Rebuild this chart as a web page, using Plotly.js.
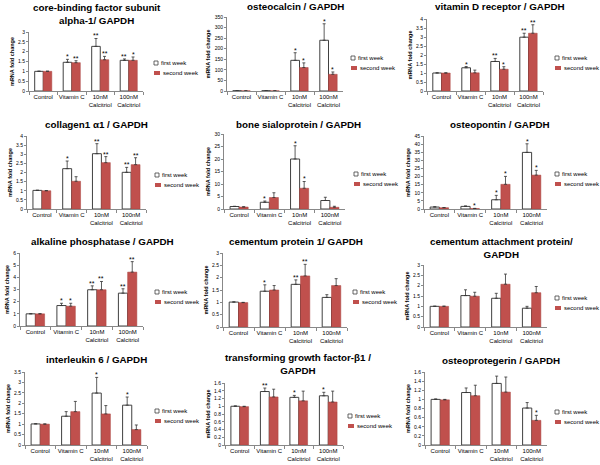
<!DOCTYPE html>
<html>
<head>
<meta charset="utf-8">
<script src="https://cdn.plot.ly/plotly-3.0.1.min.js"></script>
<style>body{margin:0;background:#fff}#chart{width:600px;height:465px}</style>
</head>
<body>
<div id="chart"></div>
<script>
const categories = ['Control', 'Vitamin C', '10nM<br>Calcitriol', '100nM<br>Calcitriol']
const weekNames = ['first week', 'second week']

// core-binding factor subunit alpha-1
const cbfaFirst = [1, 1.46, 2.27, 1.56]
const cbfaFirstErr = [0.01, 0.15, 0.4, 0.07]
const cbfaSecond = [1, 1.44, 1.59, 1.56]
const cbfaSecondErr = [0.01, 0.1, 0.17, 0.17]
const cbfaFirstSig = ['', '*', '**', '**']
const cbfaSecondSig = ['', '**', '**', '*']

// osteocalcin
const ocnFirst = [1, 1, 145, 240]
const ocnFirstErr = [0, 0, 36, 78]
const ocnSecond = [1, 1, 111, 79]
const ocnSecondErr = [0, 0, 22, 11]
const ocnFirstSig = ['', '', '*', '*']
const ocnSecondSig = ['', '', '*', '*']

// vitamin D receptor
const vdrFirst = [1, 1.29, 1.64, 2.99]
const vdrFirstErr = [0.01, 0.07, 0.17, 0.22]
const vdrSecond = [1, 1.01, 1.21, 3.21]
const vdrSecondErr = [0.01, 0.15, 0.14, 0.47]
const vdrFirstSig = ['', '*', '**', '**']
const vdrSecondSig = ['', '', '*', '**']

// collagen1 alpha1
const colFirst = [1.02, 2.21, 3.03, 2.01]
const colFirstErr = [0.01, 0.42, 0.55, 0.27]
const colSecond = [1, 1.52, 2.54, 2.43]
const colSecondErr = [0.01, 0.25, 0.33, 0.38]
const colFirstSig = ['', '*', '**', '**']
const colSecondSig = ['', '', '**', '**']

// bone sialoprotein
const bspFirst = [1, 2.7, 20, 3.4]
const bspFirstErr = [0.1, 0.5, 5.3, 1.3]
const bspSecond = [0.8, 4.6, 8.3, 0.7]
const bspSecondErr = [0.1, 1.9, 2.7, 0.4]
const bspFirstSig = ['', '*', '*', '']
const bspSecondSig = ['', '', '*', '']

// osteopontin
const opnFirst = [1.2, 1.6, 5.7, 34.9]
const opnFirstErr = [0.2, 0.3, 2.7, 5.3]
const opnSecond = [0.8, 0.3, 15.2, 20.9]
const opnSecondErr = [0.1, 0.1, 4.9, 2.9]
const opnFirstSig = ['', '', '*', '*']
const opnSecondSig = ['', '*', '*', '*']

// alkaline phosphatase
const alpFirst = [1, 1.68, 2.98, 2.7]
const alpFirstErr = [0.01, 0.19, 0.32, 0.36]
const alpSecond = [1, 1.63, 2.98, 4.43]
const alpSecondErr = [0.01, 0.24, 0.68, 0.86]
const alpFirstSig = ['', '*', '**', '**']
const alpSecondSig = ['', '*', '**', '**']

// cementum protein 1
const cp1First = [1.01, 1.45, 1.73, 1.2]
const cp1FirstErr = [0.01, 0.26, 0.18, 0.11]
const cp1Second = [0.99, 1.5, 2.07, 1.68]
const cp1SecondErr = [0.01, 0.18, 0.47, 0.28]
const cp1FirstSig = ['', '*', '**', '']
const cp1SecondSig = ['', '', '**', '']

// cementum attachment protein
const capFirst = [1, 1.52, 1.39, 0.91]
const capFirstErr = [0.01, 0.28, 0.24, 0.09]
const capSecond = [1, 1.49, 2.07, 1.66]
const capSecondErr = [0.01, 0.19, 0.49, 0.3]

// interleukin 6
const il6First = [1.01, 1.38, 2.49, 1.91]
const il6FirstErr = [0.01, 0.22, 0.75, 0.39]
const il6Second = [1, 1.6, 1.49, 0.74]
const il6SecondErr = [0.01, 0.49, 0.4, 0.22]
const il6FirstSig = ['', '', '*', '*']

// transforming growth factor-beta1
const tgfFirst = [1, 1.38, 1.23, 1.27]
const tgfFirstErr = [0.01, 0.09, 0.05, 0.09]
const tgfSecond = [0.99, 1.24, 1.14, 1.11]
const tgfSecondErr = [0.01, 0.2, 0.25, 0.28]
const tgfFirstSig = ['', '**', '*', '*']

// osteoprotegerin
const opgFirst = [1, 1.15, 1.35, 0.81]
const opgFirstErr = [0.01, 0.1, 0.16, 0.12]
const opgSecond = [0.99, 1.08, 1.16, 0.54]
const opgSecondErr = [0.01, 0.23, 0.33, 0.11]
const opgSecondSig = ['', '', '', '*']

const none = ['', '', '', '']

// box: [left, right, top, bottom] in px, tp: title centre, lp: legend first row
const panels = [
    {title: 'core-binding factor subunit<br>alpha-1/ GAPDH', f: cbfaFirst, fe: cbfaFirstErr, s: cbfaSecond, se: cbfaSecondErr, fs: cbfaFirstSig, ss: cbfaSecondSig, yMax: 3, dtick: 0.5, box: [29, 143, 32, 91], tp: [97, 13.5], lp: [154, 63]},
    {title: 'osteocalcin / GAPDH', f: ocnFirst, fe: ocnFirstErr, s: ocnSecond, se: ocnSecondErr, fs: ocnFirstSig, ss: ocnSecondSig, yMax: 350, dtick: 50, box: [227, 343, 17, 91], tp: [295, 7], lp: [351, 58]},
    {title: 'vitamin D receptor / GAPDH', f: vdrFirst, fe: vdrFirstErr, s: vdrSecond, se: vdrSecondErr, fs: vdrFirstSig, ss: vdrSecondSig, yMax: 4, dtick: 0.5, box: [427, 543, 19, 91], tp: [500, 7], lp: [555, 58]},
    {title: 'collagen1 α1 / GAPDH', f: colFirst, fe: colFirstErr, s: colSecond, se: colSecondErr, fs: colFirstSig, ss: colSecondSig, yMax: 4, dtick: 0.5, box: [27, 146, 136, 209], tp: [97, 125], lp: [155, 175]},
    {title: 'bone sialoprotein / GAPDH', f: bspFirst, fe: bspFirstErr, s: bspSecond, se: bspSecondErr, fs: bspFirstSig, ss: bspSecondSig, yMax: 30, dtick: 5, box: [224, 345, 134, 209], tp: [298, 125], lp: [354, 174]},
    {title: 'osteopontin / GAPDH', f: opnFirst, fe: opnFirstErr, s: opnSecond, se: opnSecondErr, fs: opnFirstSig, ss: opnSecondSig, yMax: 45, dtick: 5, box: [424, 547, 136, 209], tp: [500, 125], lp: [555, 174]},
    {title: 'alkaline phosphatase / GAPDH', f: alpFirst, fe: alpFirstErr, s: alpSecond, se: alpSecondErr, fs: alpFirstSig, ss: alpSecondSig, yMax: 6, dtick: 1, box: [20, 143, 253, 326], tp: [102, 241], lp: [155, 292]},
    {title: 'cementum protein 1/ GAPDH', f: cp1First, fe: cp1FirstErr, s: cp1Second, se: cp1SecondErr, fs: cp1FirstSig, ss: cp1SecondSig, yMax: 3, dtick: 0.5, box: [223, 347, 253, 327], tp: [296, 241], lp: [353, 292]},
    {title: 'cementum attachment protein/<br>GAPDH', f: capFirst, fe: capFirstErr, s: capSecond, se: capSecondErr, fs: none, ss: none, yMax: 3, dtick: 0.5, box: [424, 547, 265, 327], tp: [501, 247.5], lp: [555, 298]},
    {title: 'interleukin 6 / GAPDH', f: il6First, fe: il6FirstErr, s: il6Second, se: il6SecondErr, fs: il6FirstSig, ss: none, yMax: 3.5, dtick: 0.5, box: [25, 147, 372, 445], tp: [97, 359], lp: [155, 411]},
    {title: 'transforming growth factor-β1 /<br>GAPDH', f: tgfFirst, fe: tgfFirstErr, s: tgfSecond, se: tgfSecondErr, fs: tgfFirstSig, ss: none, yMax: 1.6, dtick: 0.2, box: [225, 343, 383, 445], tp: [298, 364], lp: [348, 416]},
    {title: 'osteoprotegerin / GAPDH', f: opgFirst, fe: opgFirstErr, s: opgSecond, se: opgSecondErr, fs: none, ss: opgSecondSig, yMax: 1.6, dtick: 0.2, box: [425, 547, 372, 445], tp: [501, 360], lp: [555, 412]},
]

const W = 600, H = 465
const px = x => x / W
const py = y => 1 - y / H
const red = '#c0504d'
const edge = '#404040'
const font = 'Liberation Sans, Arial, sans-serif'
const barGap = 0.4
const shift = (1 - barGap) / 4

let data = []
let annotations = []
let shapes = []
let layout = {
    width: W, height: H,
    margin: {l: 0, r: 0, t: 0, b: 0},
    paper_bgcolor: '#fff',
    plot_bgcolor: '#fff',
    barmode: 'group',
    bargap: barGap,
    bargroupgap: 0,
    showlegend: false,
    font: {family: font, size: 6, color: '#000'},
}

panels.forEach((p, i) => {
    const n = i === 0 ? '' : String(i + 1)
    const xa = 'x' + n, ya = 'y' + n
    const errBar = (arr) => ({
        type: 'data', symmetric: false, array: arr, arrayminus: arr.map(() => 0),
        color: '#333', thickness: 0.8, width: 1.5,
    })
    data.push({
        type: 'bar', x: categories, y: p.f, name: weekNames[0], xaxis: xa, yaxis: ya,
        marker: {color: '#fff', line: {color: edge, width: 1}},
        error_y: errBar(p.fe),
    })
    data.push({
        type: 'bar', x: categories, y: p.s, name: weekNames[1], xaxis: xa, yaxis: ya,
        marker: {color: red, line: {color: '#a8403d', width: 0.5}},
        error_y: errBar(p.se),
    })

    layout['xaxis' + n] = {
        domain: [px(p.box[0]), px(p.box[1])],
        anchor: ya,
        type: 'category',
        showline: true, linecolor: '#888', linewidth: 1,
        ticks: 'outside', tickson: 'boundaries', ticklen: 3, tickcolor: '#888',
        tickangle: 0,
        tickfont: {size: 6, family: font},
        showgrid: false, zeroline: false, fixedrange: true,
    }
    layout['yaxis' + n] = {
        domain: [py(p.box[3]), py(p.box[2])],
        anchor: xa,
        range: [0, p.yMax], dtick: p.dtick,
        showline: true, linecolor: '#888', linewidth: 1,
        ticks: 'outside', ticklen: 2, tickcolor: '#888',
        tickfont: {size: 5, family: font},
        showgrid: false, zeroline: false,
        title: {text: '<b>mRNA fold change</b>', font: {size: 5.5, family: font}, standoff: 3},
    }

    // panel title
    annotations.push({
        xref: 'paper', yref: 'paper', x: px(p.tp[0]), y: py(p.tp[1]),
        xanchor: 'center', yanchor: 'middle', showarrow: false,
        text: '<b>' + p.title + '</b>',
        font: {size: 9.8, family: font, color: '#000'},
    })

    // significance marks above the error bars
    categories.forEach((c, k) => {
        if (p.fs[k]) annotations.push({
            xref: xa, yref: ya, x: k - shift, y: p.f[k] + p.fe[k], yanchor: 'bottom',
            showarrow: false, text: p.fs[k], font: {size: 7, family: font}, yshift: -3,
        })
        if (p.ss[k]) annotations.push({
            xref: xa, yref: ya, x: k + shift, y: p.s[k] + p.se[k], yanchor: 'bottom',
            showarrow: false, text: p.ss[k], font: {size: 7, family: font}, yshift: -3,
        })
    })

    // legend
    const [lx, ly] = p.lp
    shapes.push({
        type: 'rect', xref: 'paper', yref: 'paper',
        x0: px(lx), x1: px(lx + 4), y0: py(ly + 2), y1: py(ly - 2),
        fillcolor: '#fff', line: {color: edge, width: 0.8},
    })
    shapes.push({
        type: 'rect', xref: 'paper', yref: 'paper',
        x0: px(lx), x1: px(lx + 6), y0: py(ly + 12), y1: py(ly + 8),
        fillcolor: red, line: {width: 0},
    })
    annotations.push({
        xref: 'paper', yref: 'paper', x: px(lx + 4.5), y: py(ly),
        xanchor: 'left', yanchor: 'middle', showarrow: false,
        text: weekNames[0], font: {size: 6, family: font},
    })
    annotations.push({
        xref: 'paper', yref: 'paper', x: px(lx + 6.5), y: py(ly + 10),
        xanchor: 'left', yanchor: 'middle', showarrow: false,
        text: weekNames[1], font: {size: 6, family: font},
    })
})

layout.annotations = annotations
layout.shapes = shapes

Plotly.newPlot('chart', data, layout, {staticPlot: true, displayModeBar: false})
</script>
</body>
</html>
